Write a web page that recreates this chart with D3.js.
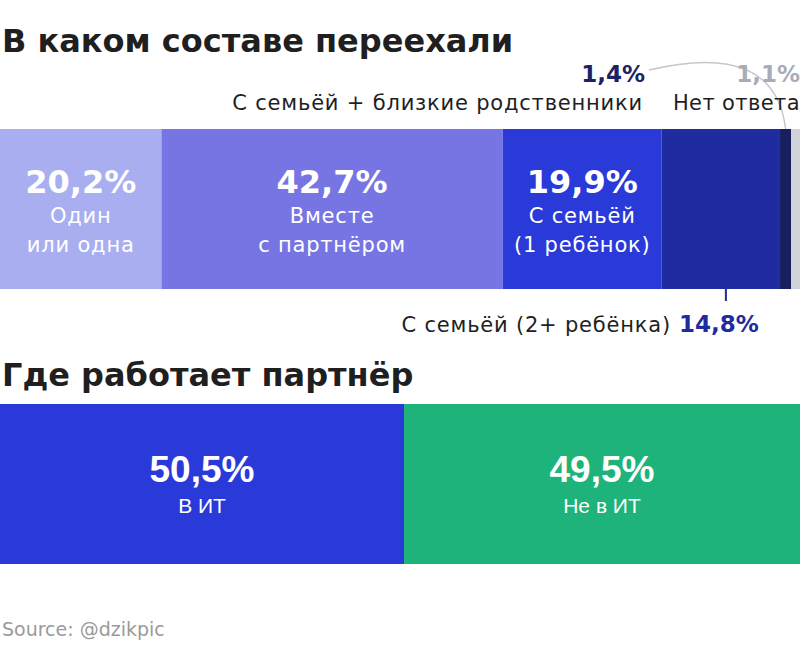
<!DOCTYPE html>
<html>
<head>
<meta charset="utf-8">
<script src="https://cdn.jsdelivr.net/npm/d3@7"></script>
<style>
  body { margin: 0; background: #fff; }
  text { font-family: "DejaVu Sans", sans-serif; }
</style>
</head>
<body>
<div id="chart"></div>
<script>
// DATA
const groupLabels = ["Один\nили одна", "Вместе\nс партнёром", "С семьёй\n(1 ребёнок)", "С семьёй (2+ ребёнка)", "С семьёй + близкие родственники", "Нет ответа"];
const groupValues = [20.2, 42.7, 19.9, 14.8, 1.4, 1.1];
const groupColors = ["#a8aef0", "#7675e3", "#2a3ad8", "#1f2b9e", "#171f60", "#d0d2d8"];

const partnerLabels = ["В ИТ", "Не в ИТ"];
const partnerValues = [50.5, 49.5];
const partnerColors = ["#2a3ad8", "#1eb37a"];

const width = 801, height = 661;
const fmt = v => d3.format(".1f")(v).replace(".", ",") + "%";

const svg = d3.select("#chart").append("svg")
  .attr("width", width)
  .attr("height", height);

// stack helper
function stackUp(values) {
  let acc = 0;
  return values.map((v, i) => { const d = { i, v, x0: acc, x1: acc + v }; acc += v; return d; });
}

// small label style
const labelSize = 21, labelSpacing = 0.8;

// ---------- CHART 1 ----------
svg.append("text")
  .attr("x", 2).attr("y", 52)
  .attr("font-size", 32).attr("font-weight", 700).attr("fill", "#1f1f1f")
  .text("В каком составе переехали");

const x1 = d3.scaleLinear()
  .domain([0, d3.sum(groupValues)])
  .range([0, 800]);

const top1 = 129, h1 = 160;
const segs1 = stackUp(groupValues);

// leader line for 1,4% (behind labels)
const p = d3.path();
const lx = 649, ly = 70;
const ex = x1((segs1[4].x0 + segs1[4].x1) / 2);
p.moveTo(lx, ly);
p.quadraticCurveTo(775, 40, ex, top1);
svg.append("path")
  .attr("d", p.toString())
  .attr("fill", "none")
  .attr("stroke", "#c4c7cf")
  .attr("stroke-width", 1.5);

svg.append("g").selectAll("rect")
  .data(segs1)
  .join("rect")
    .attr("x", d => x1(d.x0))
    .attr("y", top1)
    .attr("width", d => x1(d.x1) - x1(d.x0))
    .attr("height", h1)
    .attr("fill", d => groupColors[d.i]);

// inside labels for first three segments
const inner = svg.append("g").selectAll("g")
  .data(segs1.slice(0, 3))
  .join("g")
    .attr("transform", d => `translate(${(x1(d.x0) + x1(d.x1)) / 2},0)`)
    .attr("text-anchor", "middle")
    .attr("fill", "#fff");

inner.append("text")
  .attr("y", 193)
  .attr("font-size", 32).attr("font-weight", 700)
  .text(d => fmt(d.v));

inner.each(function(d) {
  const lines = groupLabels[d.i].split("\n");
  d3.select(this).selectAll("text.sub")
    .data(lines)
    .join("text")
      .attr("class", "sub")
      .attr("y", (l, k) => 223 + k * 29)
      .attr("font-size", labelSize)
      .attr("letter-spacing", labelSpacing)
      .text(l => l);
});

// outside labels
svg.append("text")
  .attr("x", 645).attr("y", 82)
  .attr("text-anchor", "end")
  .attr("font-size", 23).attr("font-weight", 700).attr("fill", "#1c2266")
  .text(fmt(groupValues[4]));
svg.append("text")
  .attr("x", 643).attr("y", 110)
  .attr("text-anchor", "end")
  .attr("font-size", labelSize).attr("letter-spacing", labelSpacing).attr("fill", "#1f1f1f")
  .text(groupLabels[4]);

svg.append("text")
  .attr("x", 800).attr("y", 82)
  .attr("text-anchor", "end")
  .attr("font-size", 23).attr("font-weight", 700).attr("fill", "#a8acb7")
  .text(fmt(groupValues[5]));
svg.append("text")
  .attr("x", 800).attr("y", 110)
  .attr("text-anchor", "end")
  .attr("font-size", labelSize).attr("letter-spacing", 0.4).attr("fill", "#1f1f1f")
  .text(groupLabels[5]);

// tick + label for 14,8%
const tx = x1((segs1[3].x0 + segs1[3].x1) / 2) + 5;
svg.append("line")
  .attr("x1", tx).attr("x2", tx)
  .attr("y1", top1 + h1).attr("y2", top1 + h1 + 12)
  .attr("stroke", "#1f2b9e").attr("stroke-width", 2);
svg.append("text")
  .attr("x", 671).attr("y", 332)
  .attr("text-anchor", "end")
  .attr("font-size", labelSize).attr("letter-spacing", labelSpacing).attr("fill", "#1f1f1f")
  .text(groupLabels[3]);
svg.append("text")
  .attr("x", 679).attr("y", 332)
  .attr("font-size", 23).attr("font-weight", 700).attr("fill", "#1f2b9e")
  .text(fmt(groupValues[3]));

// ---------- CHART 2 ----------
svg.append("text")
  .attr("x", 2).attr("y", 386)
  .attr("font-size", 32).attr("font-weight", 700).attr("fill", "#1f1f1f")
  .text("Где работает партнёр");

const x2 = d3.scaleLinear()
  .domain([0, d3.sum(partnerValues)])
  .range([0, 800]);

const top2 = 404, h2 = 160;
const segs2 = stackUp(partnerValues);

svg.append("g").selectAll("rect")
  .data(segs2)
  .join("rect")
    .attr("x", d => x2(d.x0))
    .attr("y", top2)
    .attr("width", d => x2(d.x1) - x2(d.x0))
    .attr("height", h2)
    .attr("fill", d => partnerColors[d.i]);

const inner2 = svg.append("g").selectAll("g")
  .data(segs2)
  .join("g")
    .attr("transform", d => `translate(${(x2(d.x0) + x2(d.x1)) / 2},0)`)
    .attr("text-anchor", "middle")
    .attr("fill", "#fff");

inner2.append("text")
  .attr("y", 482)
  .attr("font-size", 37).attr("font-weight", 700)
  .style("font-family", "'Liberation Sans', Arial, sans-serif")
  .text(d => fmt(d.v));
inner2.append("text")
  .attr("y", 513)
  .attr("font-size", 21)
  .style("font-family", "'Liberation Sans', Arial, sans-serif")
  .text(d => partnerLabels[d.i]);

// source
svg.append("text")
  .attr("x", 2).attr("y", 636)
  .attr("font-size", 19).attr("fill", "#9a9a9a")
  .text("Source: @dzikpic");
</script>
</body>
</html>
